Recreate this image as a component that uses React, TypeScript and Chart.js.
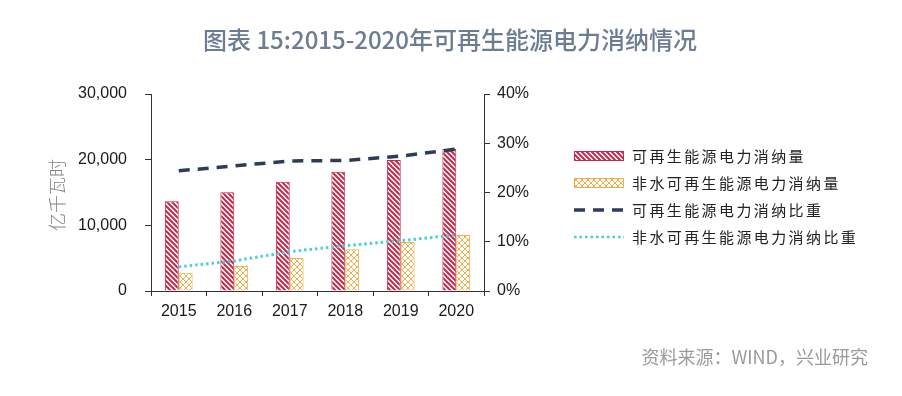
import React, { useEffect, useRef } from "react";
import { Chart, registerables } from "chart.js";

Chart.register(...registerables);

const years = ["2015", "2016", "2017", "2018", "2019", "2020"];
const renewableAmount = [13660, 15030, 16650, 18170, 19950, 21670];
const nonHydroAmount = [2790, 3800, 5030, 6350, 7460, 8530];
const renewableShare = [24.4, 25.4, 26.4, 26.5, 27.4, 28.8];
const nonHydroShare = [4.9, 6.1, 8.0, 9.2, 10.2, 11.4];

const seriesNames = [
  "可再生能源电力消纳量",
  "非水可再生能源电力消纳量",
  "可再生能源电力消纳比重",
  "非水可再生能源电力消纳比重",
];
const titleText = "图表 15:2015-2020年可再生能源电力消纳情况";
const sourceText = "资料来源：WIND，兴业研究";
const yTitle = "亿千瓦时";

const RED = "#c52a4a";
const YEL = "#efb04a";
const NAVY = "#2e3c57";
const CYAN = "#4ccfd6";

function makePattern(color: string, cross: boolean, size: number, lw: number) {
  const c = document.createElement("canvas");
  c.width = size;
  c.height = size;
  const x = c.getContext("2d")!;
  x.fillStyle = "#fff";
  x.fillRect(0, 0, size, size);
  x.strokeStyle = color;
  x.lineWidth = lw;
  x.beginPath();
  x.moveTo(-1, -1); x.lineTo(size + 1, size + 1);
  x.moveTo(-1, size - 1); x.lineTo(1, size + 1);
  x.moveTo(size - 1, -1); x.lineTo(size + 1, 1);
  if (cross) {
    x.moveTo(-1, size + 1); x.lineTo(size + 1, -1);
    x.moveTo(-1, 1); x.lineTo(1, -1);
    x.moveTo(size - 1, size + 1); x.lineTo(size + 1, size - 1);
  }
  x.stroke();
  return x.createPattern(c, "repeat")!;
}

export default function App() {
  const ref = useRef<HTMLCanvasElement>(null);
  useEffect(() => {
    const canvas = ref.current!;
    const redPat = makePattern(RED, false, 5, 2);
    const yelPat = makePattern(YEL, true, 6, 1);

    const overlay = {
      id: "overlay",
      afterDraw(chart: any) {
        const ctx = chart.ctx as CanvasRenderingContext2D;
        ctx.save();
        ctx.fillStyle = "#6b7c93";
        ctx.font = '500 24px "Noto Sans CJK SC"';
        ctx.textAlign = "center";
        ctx.textBaseline = "middle";
        ctx.fillText(titleText, 450, 40);
        ctx.fillStyle = "#9a9a9a";
        ctx.font = '18px "Noto Sans CJK SC"';
        ctx.textAlign = "right";
        ctx.fillText(sourceText, 868, 357);
        ctx.save();
        ctx.translate(57, 195);
        ctx.rotate(-Math.PI / 2);
        ctx.fillStyle = "#858585";
        ctx.font = '300 18px "Noto Sans CJK SC"';
        ctx.textAlign = "center";
        ctx.fillText(yTitle, 0, 0);
        ctx.restore();
        const rows = [156, 183, 210, 237];
        const sx = 574, sw = 50;
        rows.forEach((ry, i) => {
          if (i < 2) {
            ctx.fillStyle = i === 0 ? redPat : yelPat;
            ctx.fillRect(sx, ry - 5, sw, 10);
            ctx.strokeStyle = i === 0 ? RED : YEL;
            ctx.lineWidth = 1;
            ctx.strokeRect(sx + 0.5, ry - 4.5, sw - 1, 9);
          } else {
            ctx.beginPath();
            ctx.strokeStyle = i === 2 ? NAVY : CYAN;
            ctx.lineWidth = i === 2 ? 3.5 : 2.5;
            ctx.setLineDash(i === 2 ? [11, 8] : [2.5, 3]);
            ctx.moveTo(sx, ry);
            ctx.lineTo(sx + sw, ry);
            ctx.stroke();
            ctx.setLineDash([]);
          }
          ctx.fillStyle = "#222";
          ctx.font = '15px "Noto Sans CJK SC"';
          ctx.textAlign = "left";
          ctx.textBaseline = "middle";
          const chars = Array.from(seriesNames[i]);
          chars.forEach((ch, k) => ctx.fillText(ch, 632 + k * 17.4, ry));
        });
        ctx.restore();
      },
    };

    const tickFont = { family: '"Liberation Sans", Arial', size: 16 };
    const chart = new Chart(canvas, {
      type: "bar",
      data: {
        labels: years,
        datasets: [
          {
            type: "bar",
            label: seriesNames[0],
            data: renewableAmount,
            backgroundColor: redPat,
            borderColor: RED,
            borderWidth: 1,
            yAxisID: "y",
            order: 2,
            categoryPercentage: 0.5,
            barPercentage: 1,
          },
          {
            type: "bar",
            label: seriesNames[1],
            data: nonHydroAmount,
            backgroundColor: yelPat,
            borderColor: YEL,
            borderWidth: 1,
            yAxisID: "y",
            order: 2,
            categoryPercentage: 0.5,
            barPercentage: 1,
          },
          {
            type: "line",
            label: seriesNames[2],
            data: renewableShare,
            borderColor: NAVY,
            borderWidth: 3.5,
            borderDash: [11, 8],
            pointRadius: 0,
            fill: false,
            tension: 0,
            yAxisID: "y1",
            order: 1,
          },
          {
            type: "line",
            label: seriesNames[3],
            data: nonHydroShare,
            borderColor: CYAN,
            borderWidth: 3,
            borderDash: [2.5, 3],
            pointRadius: 0,
            fill: false,
            tension: 0,
            yAxisID: "y1",
            order: 1,
          },
        ] as any,
      },
      options: {
        animation: false,
        responsive: false,
        layout: { padding: { left: 0, right: 0, top: 94, bottom: 75 } },
        plugins: { legend: { display: false }, title: { display: false }, tooltip: { enabled: false } },
        scales: {
          x: {
            offset: true,
            grid: { display: true, drawOnChartArea: false, drawTicks: true, tickLength: 5, color: "#333", offset: true },
            border: { display: true, color: "#333", width: 1 },
            ticks: { color: "#1a1a1a", font: tickFont, padding: 6, maxRotation: 0 },
            afterFit: (s: any) => { s.height = 30; },
          },
          y: {
            position: "left",
            min: 0,
            max: 30000,
            ticks: {
              stepSize: 10000,
              color: "#1a1a1a",
              font: tickFont,
              padding: 18,
              callback: (v: any) => Number(v).toLocaleString("en-US"),
            },
            grid: { display: true, drawOnChartArea: false, drawTicks: true, tickLength: 6, color: "#333" },
            border: { display: true, color: "#333", width: 1 },
            afterFit: (s: any) => { s.width = 151; },
          },
          y1: {
            position: "right",
            min: 0,
            max: 40,
            ticks: {
              stepSize: 10,
              color: "#1a1a1a",
              font: tickFont,
              padding: 7,
              callback: (v: any) => v + "%",
            },
            grid: { display: true, drawOnChartArea: false, drawTicks: true, tickLength: 6, color: "#333" },
            border: { display: true, color: "#333", width: 1 },
            afterFit: (s: any) => { s.width = 418; },
          },
        },
      } as any,
      plugins: [overlay],
    });
    return () => chart.destroy();
  }, []);
  return (
    <div style={{ position: "absolute", left: 0, top: 0, width: 902, height: 396, background: "#fff" }}>
      <canvas ref={ref} width={902} height={396} />
    </div>
  );
}
